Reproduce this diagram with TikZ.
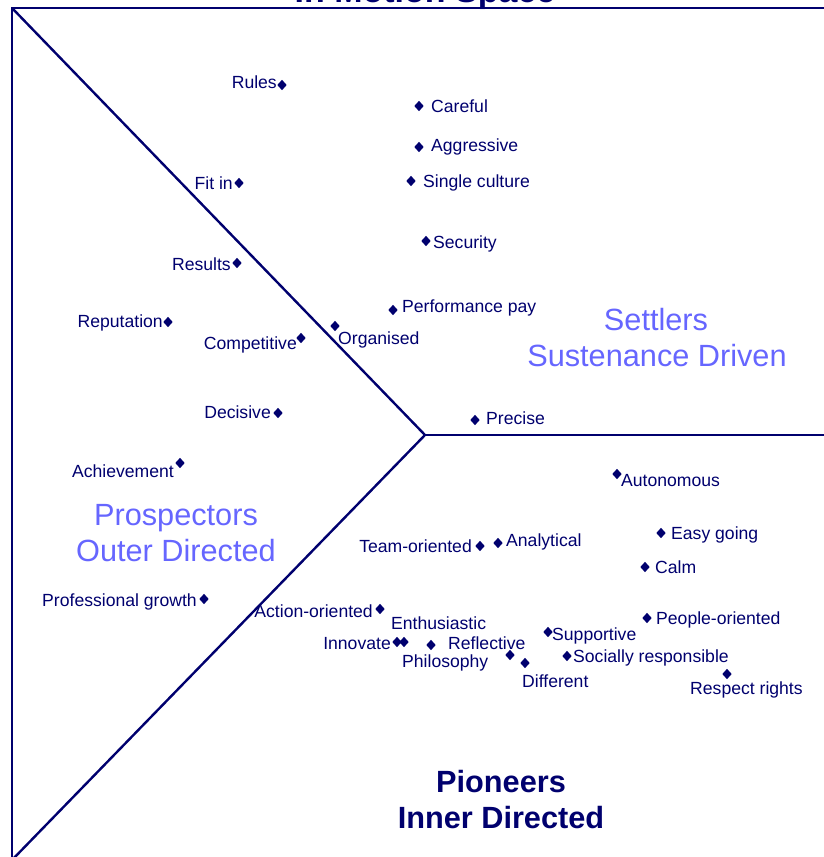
\documentclass[tikz,border=0pt]{standalone}
\usepackage{fontspec}
\setmainfont{Liberation Sans}
\usetikzlibrary{shapes.geometric}
\definecolor{navy}{RGB}{0,0,110}
\definecolor{lilac}{RGB}{102,102,255}
\tikzset{
  dia/.style={diamond, fill=navy, inner sep=0pt, minimum width=9.5pt, minimum height=10.5pt},
  lbl/.style={font=\fontsize{17.6}{20}\selectfont, text=navy, inner sep=0pt},
  quad/.style={font=\fontsize{30.7}{36}\selectfont, text=lilac, inner sep=0pt, anchor=base},
  pquad/.style={font=\fontsize{30.7}{36}\selectfont\bfseries, text=navy, inner sep=0pt, anchor=base},
  frame/.style={draw=navy, line width=2.4pt},
}
\newcommand{\dpt}[7]{%
  \node[dia] (#1) at (#2,#3) {};
  \node[lbl, anchor=#4] (#1-l) at (#5,#6) {#7};
}
\begin{document}
\begin{tikzpicture}[x=1pt,y=-1pt]
\useasboundingbox (0,0) rectangle (824,857);
% title (cut off at top, as in the reference)
\node[font=\fontsize{34}{40}\selectfont\bfseries, text=navy, inner sep=0pt, anchor=base] (title) at (425,2) {In Motion Space};
% frame and dividing lines
\coordinate (tl) at (12,8);
\coordinate (tr) at (830,8);
\coordinate (bl) at (12,862);
\coordinate (c) at (425,435);
\coordinate (r) at (830,435);
\coordinate (bd) at (12,860);
\draw[frame] (tr) -- (tl) -- (bl);
\draw[frame, line join=bevel] (tl) -- (c) -- (bd);
\draw[frame] (c) -- (r);
% points
\dpt{rules}{282}{85}{base east}{277}{88}{Rules}
\dpt{careful}{419}{106}{base west}{431}{112}{Careful}
\dpt{aggressive}{419}{147}{base west}{431}{151}{Aggressive}
\dpt{single}{411}{181}{base west}{423}{187}{Single culture}
\dpt{fitin}{239}{183}{base east}{233}{189}{Fit in}
\dpt{security}{426}{241}{base west}{433}{248}{Security}
\dpt{results}{237}{263}{base east}{231}{270}{Results}
\dpt{perfpay}{393}{310}{base west}{402}{312}{Performance pay}
\dpt{reputation}{168}{322}{base east}{163}{327}{Reputation}
\dpt{organised}{335}{326}{base west}{338}{344}{Organised}
\dpt{competitive}{301}{338}{base east}{297}{349}{Competitive}
\dpt{decisive}{278}{413}{base east}{271}{418}{Decisive}
\dpt{precise}{475}{420}{base west}{486}{424}{Precise}
\dpt{achievement}{180}{463}{base east}{174}{477}{Achievement}
\dpt{autonomous}{617}{474}{base west}{621}{486}{Autonomous}
\dpt{easygoing}{661}{533}{base west}{671}{539}{Easy going}
\dpt{teamoriented}{480}{546}{base east}{472}{552}{Team-oriented}
\dpt{analytical}{498}{543}{base west}{506}{546}{Analytical}
\dpt{calm}{645}{567}{base west}{655}{573}{Calm}
\dpt{profgrowth}{204}{599}{base east}{197}{606}{Professional growth}
\dpt{actionoriented}{380}{609}{base east}{373}{617}{Action-oriented}
\dpt{enthusiastic}{404}{642}{base west}{391}{629}{Enthusiastic}
\dpt{innovate}{397}{642}{base east}{391}{649}{Innovate}
\dpt{philosophy}{431}{645}{base west}{402}{667}{Philosophy}
\dpt{reflective}{510}{655}{base west}{448}{649}{Reflective}
\dpt{different}{525}{663}{base west}{522}{687}{Different}
\dpt{supportive}{548}{632}{base west}{552}{640}{Supportive}
\dpt{socially}{567}{656}{base west}{573}{662}{Socially responsible}
\dpt{peopleoriented}{647}{618}{base west}{656}{624}{People-oriented}
\dpt{respect}{727}{674}{base west}{690}{694}{Respect rights}
% quadrant labels
\node[quad] (settlers) at (656,330) {Settlers};
\node[quad] (sustenance) at (657,366) {Sustenance Driven};
\node[quad] (prospectors) at (176,525) {Prospectors};
\node[quad] (outer) at (176,561) {Outer Directed};
\node[pquad] (pioneers) at (501,792) {Pioneers};
\node[pquad] (inner) at (501,828) {Inner Directed};
\end{tikzpicture}
\end{document}
